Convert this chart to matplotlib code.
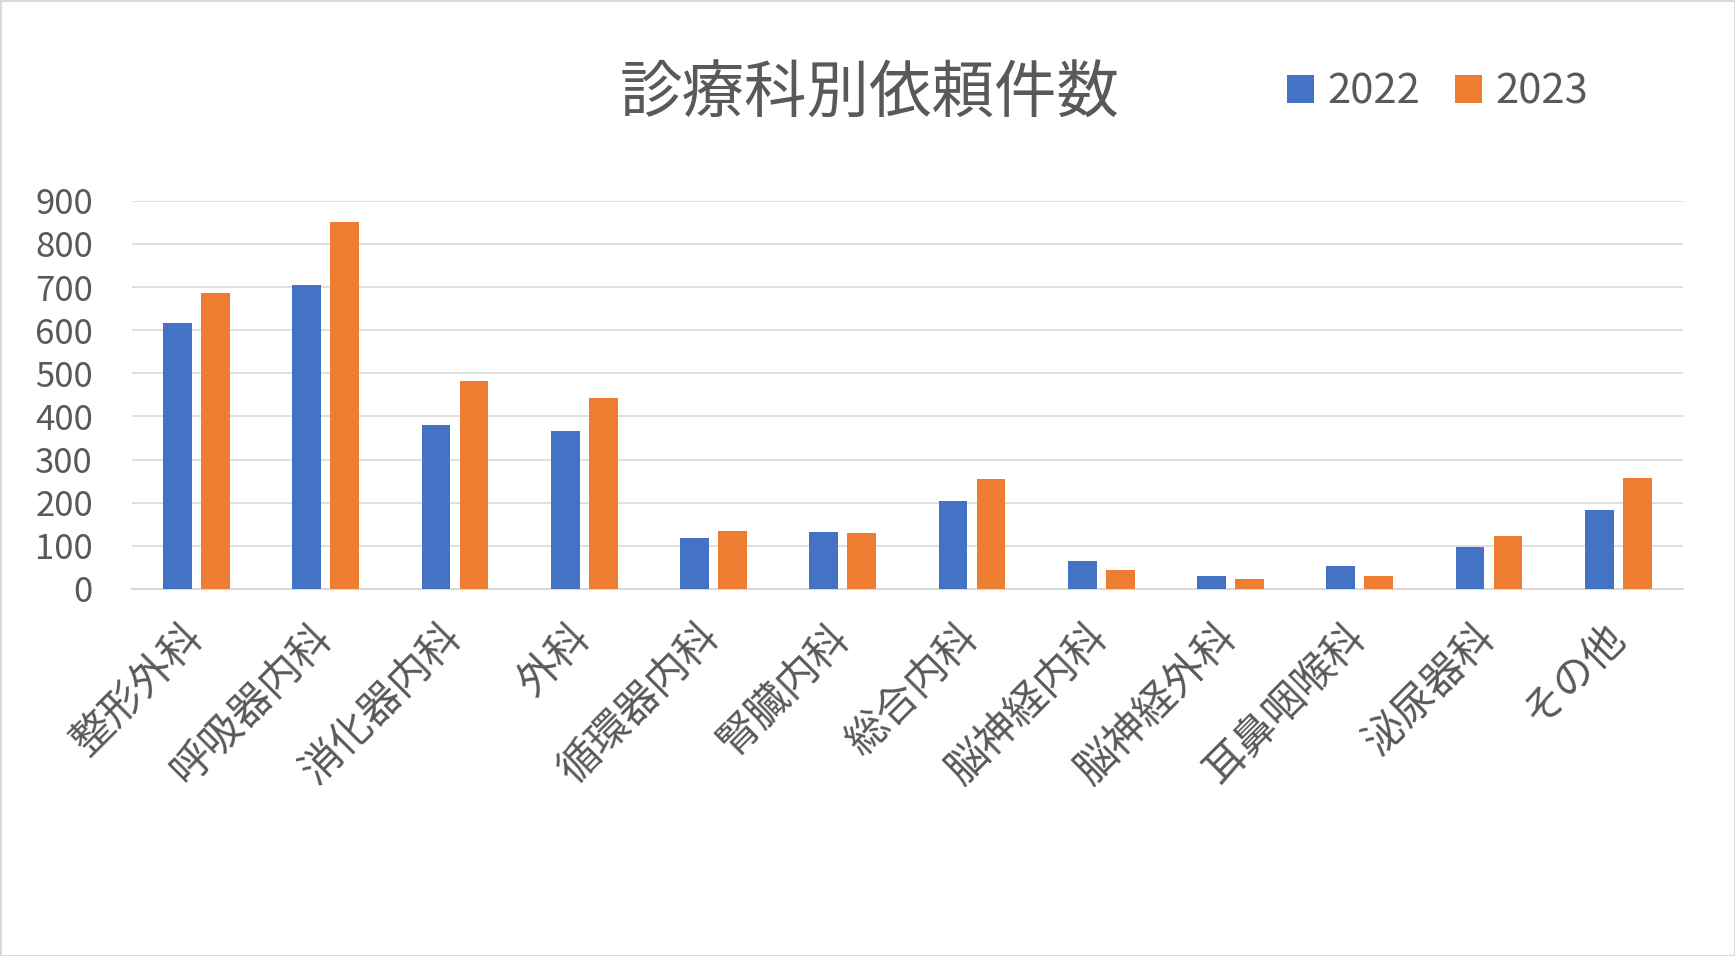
import numpy as np
import matplotlib
matplotlib.use("Agg")
import matplotlib.pyplot as plt

plt.rcParams['font.family'] = ['Noto Sans CJK JP', 'DejaVu Sans']

# chart data
departments = ['整形外科', '呼吸器内科', '消化器内科', '外科', '循環器内科', '腎臓内科',
               '総合内科', '脳神経内科', '脳神経外科', '耳鼻咽喉科', '泌尿器科', 'その他']
counts_2022 = [616, 704, 380, 367, 119, 133, 203, 64, 31, 52, 96, 182]
counts_2023 = [686, 850, 482, 443, 135, 130, 254, 43, 24, 31, 122, 257]
years = ['2022', '2023']
y_ticks = [0, 100, 200, 300, 400, 500, 600, 700, 800, 900]

text_color = '#595959'
grid_color = '#D9D9D9'
blue = '#4472C4'
orange = '#ED7D31'

fig = plt.figure(figsize=(17.35, 9.56), dpi=100)
fig.patch.set_facecolor('white')
fig.patch.set_edgecolor(grid_color)
fig.patch.set_linewidth(2)

ax = fig.add_axes([0.076, 0.384, 0.894, 0.406])

x = np.arange(len(departments))
width = 0.223
offset = 0.147
ax.bar(x - offset, counts_2022, width, color=blue, label=years[0], zorder=3)
ax.bar(x + offset, counts_2023, width, color=orange, label=years[1], zorder=3)

ax.set_xlim(-0.5, len(departments) - 0.5)
ax.set_ylim(0, 900)
ax.set_yticks(y_ticks)
ax.set_yticklabels([str(v) for v in y_ticks], fontsize=25, color=text_color)
ax.yaxis.grid(True, color=grid_color, linewidth=1.2, zorder=0)
ax.set_axisbelow(True)

ax.set_xticks(x)
ax.set_xticklabels(departments, fontsize=30, color=text_color, rotation=45,
                   ha='right', va='center', rotation_mode='anchor')
ax.tick_params(axis='x', length=0, pad=30)
ax.tick_params(axis='y', length=0, pad=28)

for side in ['top', 'right', 'left']:
    ax.spines[side].set_visible(False)
ax.spines['bottom'].set_color(grid_color)
ax.spines['bottom'].set_linewidth(1.5)

fig.text(0.501, 0.901, '診療科別依頼件数', fontsize=45, color=text_color,
         ha='center', va='center')

fig.legend(loc='center left', bbox_to_anchor=(0.742, 0.904), ncol=2, frameon=False,
           fontsize=30, labelcolor=text_color, handlelength=0.65, handleheight=0.65,
           handletextpad=0.3, columnspacing=0.85, borderpad=0, borderaxespad=0)

fig.savefig('out.png', dpi=100)
